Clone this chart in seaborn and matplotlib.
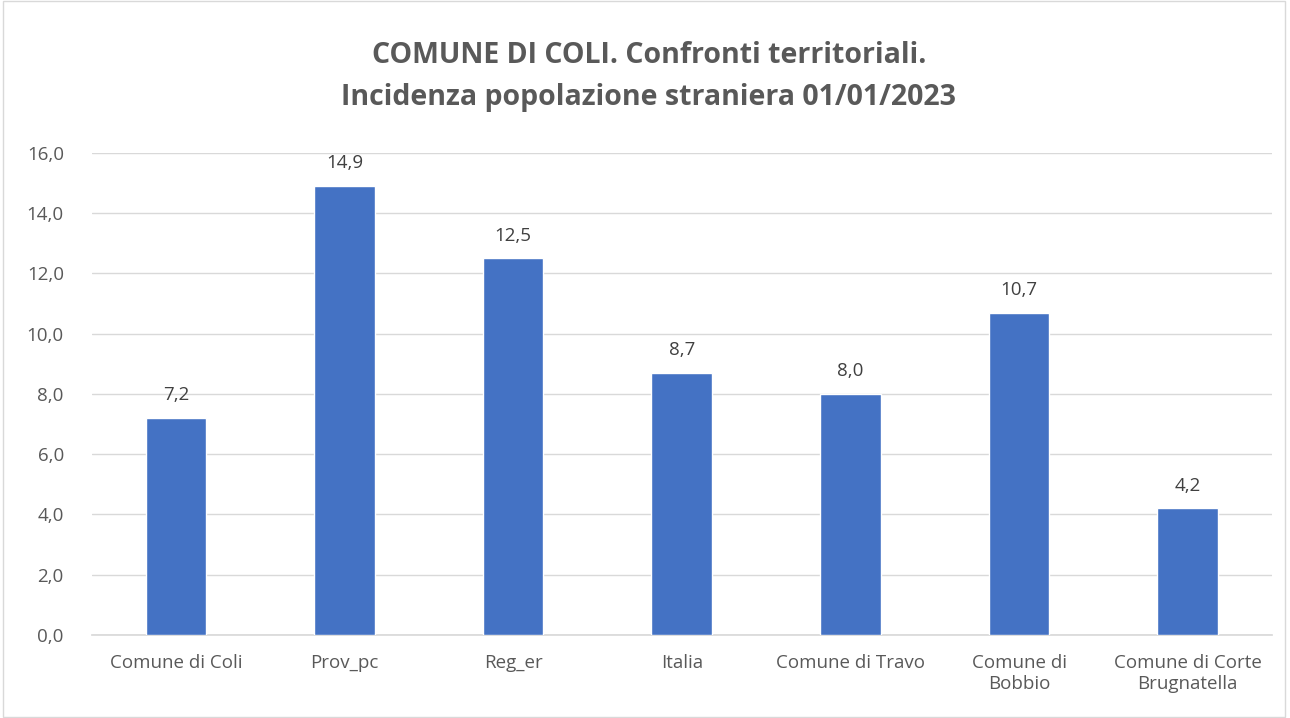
import numpy as np
import pandas as pd
import seaborn as sns
import matplotlib.pyplot as plt

categories = ["Comune di Coli", "Prov_pc", "Reg_er", "Italia", "Comune di Travo",
              "Comune di\nBobbio", "Comune di Corte\nBrugnatella"]
values = [7.2, 14.9, 12.5, 8.7, 8.0, 10.7, 4.2]

df = pd.DataFrame({"territorio": categories, "incidenza": values})

sns.set_theme(style="white")
plt.rcParams["font.family"] = ["Open Sans", "DejaVu Sans"]

fig = plt.figure(figsize=(12.9, 7.18), dpi=100)
ax = fig.add_axes([0.071, 0.1156, 0.915, 0.6715])

sns.barplot(data=df, x="territorio", y="incidenza", color="#4472C4",
            width=0.36, saturation=1, ax=ax, zorder=3)

ax.set_ylim(0, 16)
ax.set_yticks(np.arange(0, 17, 2))
ax.set_yticklabels([f"{v:.1f}".replace(".", ",") for v in np.arange(0, 17, 2)])
ax.set_xlim(-0.5, len(categories) - 0.5)
ax.grid(axis="y", color="#D9D9D9", linewidth=1, zorder=0)
ax.set_xlabel("")
ax.set_ylabel("")
for s in ["top", "right", "left"]:
    ax.spines[s].set_visible(False)
ax.spines["bottom"].set_color("#D9D9D9")
ax.tick_params(axis="both", length=0, labelsize=13.5, colors="#595959")
ax.tick_params(axis="x", pad=14)
ax.tick_params(axis="y", pad=20)

for i, v in enumerate(values):
    ax.text(i, v + 0.45, f"{v:.1f}".replace(".", ","), ha="center", va="bottom",
            fontsize=13.5, color="#404040")

fig.text(0.503, 0.893, "COMUNE DI COLI. Confronti territoriali.\nIncidenza popolazione straniera 01/01/2023",
         ha="center", va="center", fontsize=20.5, fontweight="bold", color="#595959",
         linespacing=1.6)

border = plt.Rectangle((0.002, 0.002), 0.994, 0.996, transform=fig.transFigure,
                       fill=False, edgecolor="#D9D9D9", linewidth=1)
fig.add_artist(border)

fig.savefig("out.png", dpi=100)
